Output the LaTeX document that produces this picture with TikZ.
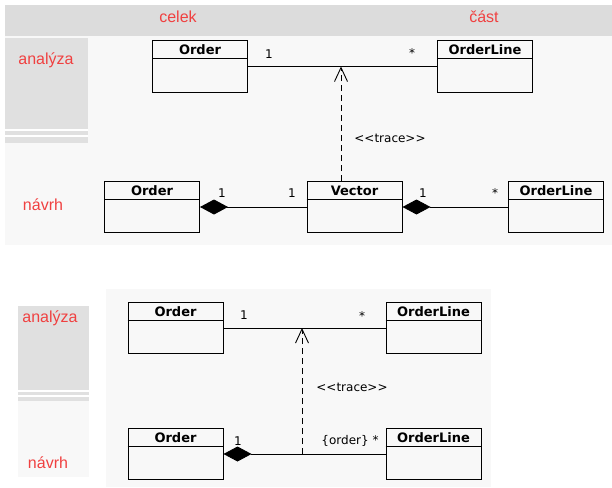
\documentclass[tikz,border=0pt]{standalone}
\usepackage{fontspec}
\usepackage{tikz}
\usetikzlibrary{arrows.meta}
\usetikzlibrary{positioning}
\newfontfamily\umlfont{DejaVu Sans}
\newfontfamily\notefont{Liberation Sans}
\definecolor{bandgray}{RGB}{220,220,220}
\definecolor{colgray}{RGB}{224,224,224}
\definecolor{panelgray}{RGB}{248,248,248}
\definecolor{notered}{RGB}{240,64,64}
\tikzset{
    klass/.style={draw, line width=1pt, minimum width=95pt, minimum height=51pt,
        inner sep=4pt, text height=9.5pt, text depth=33.5pt,
        font=\umlfont\bfseries\fontsize{13}{15}\selectfont},
    mult/.style={inner sep=0pt, font=\umlfont\fontsize{12}{14}\selectfont},
    note/.style={inner sep=0pt, text=notered, font=\notefont\fontsize{16}{18}\selectfont},
    assoc/.style={line width=0.9pt},
    comp/.style={assoc, {Diamond[length=28pt,width=15pt]}-},
    trace/.style={line width=0.8pt, dash pattern=on 6pt off 4pt,
        -{Straight Barb[length=14pt,width=13pt,line width=0.9pt]}}
}

\begin{document}
\begin{tikzpicture}[x=1pt, y=-1pt]
    % backgrounds
    \useasboundingbox[fill=white] (0,0) rectangle (612,487);
    \fill[panelgray] (5,36) rectangle (612,245);
    \fill[bandgray] (5,5) rectangle (612,36);
    \fill[colgray] (5,38) rectangle (88,143);
    \draw[white, line width=1.5pt] (5,130) -- (88,130) (5,136) -- (88,136);
    \fill[panelgray] (106,289) rectangle (491,487);
    \fill[colgray] (18,306) rectangle (89,401);
    \fill[panelgray] (18,401) rectangle (89,477);
    \draw[white, line width=1.5pt] (18,391) -- (89,391) (18,396) -- (89,396);

    % red notes
    \node[note] (celek) at (178,17) {celek};
    \node[note] (cast) at (484,17) {část};
    \node[note] (an1) at (46,60) {analýza};
    \node[note] (nav1) at (43,205) {návrh};
    \node[note] (an2) at (50,318) {analýza};
    \node[note] (nav2) at (48,463) {návrh};

    % classes
    \foreach \nm/\x/\y/\t in {ord1/200/66.5/Order, ol1/485/66.5/OrderLine,
        ord2/152/207/Order, vec/354.5/207/Vector, ol2/556/207/OrderLine,
        ord3/175.5/328/Order, ol3/433.5/328/OrderLine,
        ord4/175.5/454/Order, ol4/433.5/454/OrderLine} {
        \node[klass] (\nm) at (\x,\y) {\t};
        \draw[line width=1pt] ([yshift=-18pt]\nm.north west) -- ([yshift=-18pt]\nm.north east);
    }

    % top: analysis vs design
    \draw[assoc] (ord1) -- (ol1);
    \draw[comp] (ord2) -- (vec);
    \draw[comp] (vec) -- (ol2);
    \coordinate (tr1) at (341,0);
    \draw[trace] (tr1 |- vec.north) -- (tr1 |- ord1.east);
    \node[mult] (m1) at (269,54) {1};
    \node[mult] (m2) at (412,53) {*};
    \node[mult] (m3) at (222,193) {1};
    \node[mult] (m4) at (292,193) {1};
    \node[mult] (m5) at (423,193) {1};
    \node[mult] (m6) at (495,193) {*};
    \node[mult] (st1) at (390,138) {<<trace>>};

    % bottom
    \draw[assoc] (ord3) -- (ol3);
    \draw[comp] (ord4) -- (ol4);
    \coordinate (tr2) at (302,0);
    \draw[trace] (tr2 |- ord4.east) -- (tr2 |- ord3.east);
    \node[mult] (m7) at (244,315) {1};
    \node[mult] (m8) at (362,316) {*};
    \node[mult] (m9) at (238,441) {1};
    \node[mult] (m10) at (350,441) {\{order\} *};
    \node[mult] (st2) at (352,387) {<<trace>>};
\end{tikzpicture}
\end{document}
